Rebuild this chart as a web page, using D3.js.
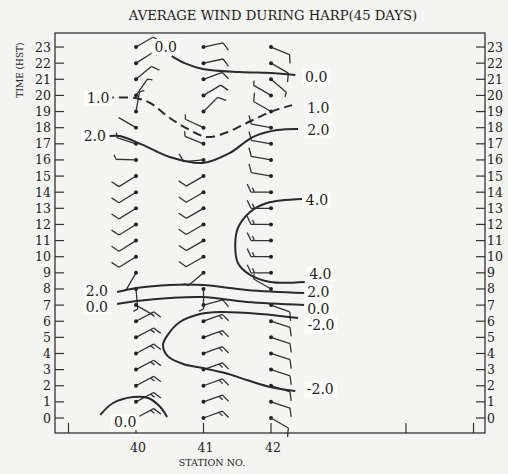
<!DOCTYPE html>
<html>
<head>
<meta charset="utf-8">
<script src="https://cdn.jsdelivr.net/npm/d3@7"></script>
<style>
  body { margin: 0; background: #f4f4f2; }
  svg { display: block; }
  text { font-family: "DejaVu Serif", serif; fill: #222; }
</style>
</head>
<body>
<svg id="chart" width="508" height="474"></svg>
<script>
var width = 508, height = 474;

// hours 0..23 and station numbers
var hourTicks = [0, 1, 2, 3, 4, 5, 6, 7, 8, 9, 10, 11, 12, 13, 14, 15, 16, 17, 18, 19, 20, 21, 22, 23];
var stationTicks = [39, 40, 41, 42, 44, 45];
var stationLabels = [40, 41, 42];
var stations = [40, 41, 42];

// wind direction (deg, the way the shaft points) and speed per hour, index = hour
var dir40 = [62, 62, 62, 62, 62, 62, 62, 120, 175, 210, 238, 238, 238, 238, 238, 238, 272, 288, 300, 10, 35, 50, 58, 60];
var spd40 = [15, 15, 15, 15, 15, 15, 15, 0, 5, 0, 10, 10, 10, 10, 10, 10, 5, 5, 0, 5, 5, 10, 5, 5];
var dir41 = [70, 70, 70, 70, 70, 70, 70, 75, 180, 230, 240, 240, 240, 240, 240, 240, 265, 292, 295, 45, 59, 70, 78, 78];
var spd41 = [15, 15, 15, 15, 15, 15, 15, 10, 5, 5, 10, 10, 10, 10, 10, 10, 10, 5, 5, 10, 10, 10, 10, 10];
var dir42 = [120, 108, 108, 108, 108, 108, 108, 110, 300, 270, 270, 270, 270, 270, 270, 280, 280, 280, 280, 300, 300, 130, 120, 112];
var spd42 = [10, 10, 10, 10, 10, 10, 10, 10, 5, 15, 15, 15, 15, 15, 15, 10, 10, 10, 10, 10, 5, 5, 10, 10];

// isotach contours: [station, hour]
var cTop0 = [[40.53, 22.44], [40.72, 22.0], [40.99, 21.64], [41.54, 21.45], [41.99, 21.39], [42.36, 21.26]];
var cDash1 = [[39.54, 19.84], [39.99, 19.84], [40.21, 19.53], [40.50, 18.60], [40.80, 17.85], [41.05, 17.42], [41.32, 17.67], [41.64, 18.29], [41.99, 18.97], [42.31, 19.40]];
var cUp2 = [[39.61, 17.48], [39.76, 17.48], [40.10, 16.93], [40.50, 16.18], [40.99, 15.81], [41.39, 16.43], [41.73, 17.42], [42.09, 17.85], [42.40, 17.92]];
var c4 = [[42.46, 13.58], [41.94, 13.33], [41.69, 12.77], [41.51, 11.78], [41.47, 10.73], [41.51, 9.61], [41.69, 8.87], [41.99, 8.43], [42.50, 8.43]];
var cLow2 = [[39.72, 7.81], [40.01, 8.06], [40.50, 8.25], [40.99, 8.25], [41.64, 7.94], [42.50, 7.75]];
var cMid0 = [[39.72, 7.07], [40.01, 7.25], [40.50, 7.44], [40.99, 7.50], [41.64, 7.19], [42.50, 7.01]];
var cNeg2 = [[42.40, 6.20], [41.84, 6.45], [41.24, 6.57], [40.95, 6.45], [40.65, 5.95], [40.47, 5.15], [40.40, 4.53], [40.47, 3.84], [40.70, 3.35], [40.99, 3.10], [41.32, 2.79], [41.64, 2.36], [41.99, 1.92], [42.36, 1.67]];
var cBot0 = [[39.47, 0.19], [39.66, 0.93], [39.96, 1.30], [40.18, 1.24], [40.36, 0.68], [40.46, 0.06]];

// contour labels: text, station, hour
var labelText = ['0.0', '0.0', '1.0', '1.0', '2.0', '2.0', '4.0', '4.0', '2.0', '2.0', '0.0', '0.0', '-2.0', '-2.0', '0.0'];
var labelStation = [40.44, 42.67, 39.44, 42.70, 39.39, 42.70, 42.68, 42.73, 39.42, 42.70, 39.42, 42.70, 42.74, 42.73, 39.84];
var labelHour = [23.0, 21.14, 19.84, 19.22, 17.48, 17.85, 13.52, 8.93, 7.87, 7.81, 6.88, 6.76, 5.77, 1.80, -0.25];

var x = d3.scaleLinear().domain([38.8, 45.17]).range([55, 485]);
var y = d3.scaleLinear().domain([-0.93, 23.87]).range([433, 33]);

var svg = d3.select('#chart');

// frame
svg.append('rect')
  .attr('x', 55).attr('y', 33)
  .attr('width', 430).attr('height', 400)
  .attr('fill', 'none')
  .attr('stroke', '#333')
  .attr('stroke-width', 1.3);

// left axis, ticks inward
var left = svg.append('g').attr('transform', 'translate(55,0)');
left.selectAll('line').data(hourTicks).enter().append('line')
  .attr('x1', 0).attr('x2', 9)
  .attr('y1', function (d) { return y(d); })
  .attr('y2', function (d) { return y(d); })
  .attr('stroke', '#333').attr('stroke-width', 1.2);
left.selectAll('text').data(hourTicks).enter().append('text')
  .attr('x', -4)
  .attr('y', function (d) { return y(d) + 4.5; })
  .attr('text-anchor', 'end')
  .attr('font-size', 12.5)
  .text(function (d) { return d; });

var right = svg.append('g').attr('transform', 'translate(485,0)');
right.selectAll('line').data(hourTicks).enter().append('line')
  .attr('x1', 0).attr('x2', -9)
  .attr('y1', function (d) { return y(d); })
  .attr('y2', function (d) { return y(d); })
  .attr('stroke', '#333').attr('stroke-width', 1.2);
right.selectAll('text').data(hourTicks).enter().append('text')
  .attr('x', 2)
  .attr('y', function (d) { return y(d) + 4.5; })
  .attr('font-size', 12.5)
  .text(function (d) { return d; });

// bottom axis
var bottom = svg.append('g').attr('transform', 'translate(0,433)');
bottom.selectAll('line').data(stationTicks).enter().append('line')
  .attr('x1', function (d) { return x(d); })
  .attr('x2', function (d) { return x(d); })
  .attr('y1', 0).attr('y2', -10)
  .attr('stroke', '#333').attr('stroke-width', 1.2);
bottom.selectAll('text').data(stationLabels).enter().append('text')
  .attr('x', function (d) { return x(d) + 2; })
  .attr('y', 19)
  .attr('text-anchor', 'middle')
  .attr('font-size', 12.5)
  .text(function (d) { return d; });

svg.append('text')
  .attr('x', 212).attr('y', 466)
  .attr('text-anchor', 'middle')
  .attr('font-size', 9.5)
  .text('STATION NO.');

svg.append('text')
  .attr('transform', 'translate(23,70) rotate(-90)')
  .attr('text-anchor', 'middle')
  .attr('font-size', 9)
  .text('TIME (HST)');

svg.append('text')
  .attr('x', 273).attr('y', 20)
  .attr('text-anchor', 'middle')
  .attr('font-size', 13.2)
  .text('AVERAGE WIND DURING HARP(45 DAYS)');

// wind barbs
var shaftLen = 20;
var windData = [];
var dirs = [dir40, dir41, dir42];
var spds = [spd40, spd41, spd42];
stations.forEach(function (s, i) {
    hourTicks.forEach(function (h) {
        windData.push({station: s, hour: h, dir: dirs[i][h], speed: spds[i][h]});
    });
});

function barbPath (d) {
    var cx = x(d.station), cy = y(d.hour);
    var a = d.dir * Math.PI / 180;
    var ux = Math.sin(a), uy = -Math.cos(a);
    var tx = cx + ux * shaftLen, ty = cy + uy * shaftLen;
    var p = 'M' + cx + ',' + cy + 'L' + tx + ',' + ty;
    var b = (d.dir + 65) * Math.PI / 180;
    var bx = Math.sin(b), by = -Math.cos(b);
    var full = Math.floor(d.speed / 10);
    var half = (d.speed % 10) >= 5;
    var k = 0;
    for (var i = 0; i < full; i++) {
        var px = tx - ux * k * 3.5, py = ty - uy * k * 3.5;
        p += 'M' + px + ',' + py + 'L' + (px + bx * 9) + ',' + (py + by * 9);
        k++;
    }
    if (half) {
        var qx = tx - ux * k * 3.5, qy = ty - uy * k * 3.5;
        p += 'M' + qx + ',' + qy + 'L' + (qx + bx * 5) + ',' + (qy + by * 5);
    }
    return p;
}

var barbs = svg.append('g');
barbs.selectAll('path').data(windData).enter().append('path')
  .attr('d', barbPath)
  .attr('fill', 'none')
  .attr('stroke', '#333')
  .attr('stroke-width', 1.3);
barbs.selectAll('circle').data(windData).enter().append('circle')
  .attr('cx', function (d) { return x(d.station); })
  .attr('cy', function (d) { return y(d.hour); })
  .attr('r', 2)
  .attr('fill', '#222');

// contours
var line = d3.line()
  .x(function (d) { return x(d[0]); })
  .y(function (d) { return y(d[1]); })
  .curve(d3.curveCatmullRom.alpha(0.5));

var contours = [
    {pts: cTop0, dash: false},
    {pts: cDash1, dash: true},
    {pts: cUp2, dash: false},
    {pts: c4, dash: false},
    {pts: cLow2, dash: false},
    {pts: cMid0, dash: false},
    {pts: cNeg2, dash: false},
    {pts: cBot0, dash: false}
];

svg.append('g').selectAll('path').data(contours).enter().append('path')
  .attr('d', function (d) { return line(d.pts); })
  .attr('fill', 'none')
  .attr('stroke', '#2a2a2a')
  .attr('stroke-width', 2)
  .attr('stroke-dasharray', function (d) { return d.dash ? '9,5' : null; });

// contour labels with light boxes
var labels = svg.append('g');
labelText.forEach(function (t, i) {
    var g = labels.append('g');
    var rect = g.append('rect').attr('fill', '#fbfbfa');
    var txt = g.append('text')
      .attr('x', x(labelStation[i]))
      .attr('y', y(labelHour[i]) + 5)
      .attr('text-anchor', 'middle')
      .attr('font-size', 14)
      .text(t);
    var bb = txt.node().getBBox();
    rect.attr('x', bb.x - 3).attr('y', bb.y)
      .attr('width', bb.width + 6).attr('height', bb.height);
});
</script>
</body>
</html>
